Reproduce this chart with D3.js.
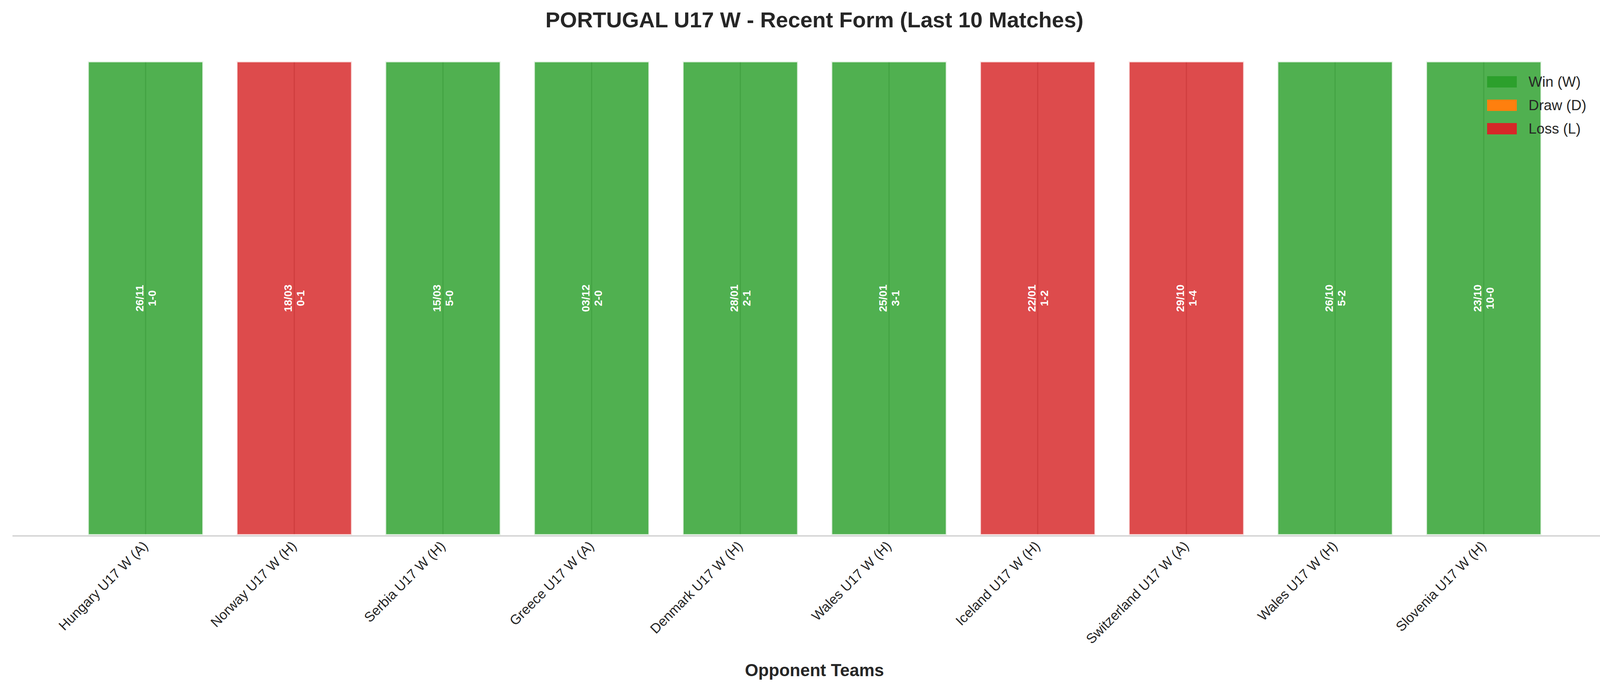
<!DOCTYPE html>
<html><head><meta charset="utf-8">
<script src="https://cdn.jsdelivr.net/npm/d3@7"></script>
<style>body{margin:0;background:#fff}svg{display:block;font-family:"Liberation Sans",Arial,sans-serif}</style>
</head><body><svg id="c" width="4170" height="1769"></svg>
<script>
const opponents = ["Hungary U17 W (A)","Norway U17 W (H)","Serbia U17 W (H)","Greece U17 W (A)","Denmark U17 W (H)","Wales U17 W (H)","Iceland U17 W (H)","Switzerland U17 W (A)","Wales U17 W (H)","Slovenia U17 W (H)"];
const results = ["W","L","W","W","W","W","L","L","W","W"];
const dates = ["26/11","18/03","15/03","03/12","28/01","25/01","22/01","29/10","26/10","23/10"];
const scores = ["1-0","0-1","5-0","2-0","2-1","3-1","1-2","1-4","5-2","10-0"];
const legendLabels = ["Win (W)","Draw (D)","Loss (L)"];
const legendKeys = ["W","D","L"];
const colors = {W:"#2ca02c", D:"#ff7f0e", L:"#d62728"};

const svg = d3.select("#c");
const x = d3.scaleLinear().domain([-0.895, 9.9]).range([32, 4141]);
const y = d3.scaleLinear().domain([0, 1]).range([1370, 157]);
const bw = 0.775 * 381.4;

// vertical grid lines
svg.append("g").selectAll("line").data(opponents).join("line")
  .attr("x1",(d,i)=>x(i)).attr("x2",(d,i)=>x(i)).attr("y1",y(0)).attr("y2",y(1))
  .attr("stroke","#b0b0b0").attr("stroke-width",3);

svg.append("g").selectAll("rect").data(results).join("rect")
  .attr("x",(d,i)=>x(i)-bw/2).attr("width",bw)
  .attr("y",y(1)).attr("height",y(0)-y(1))
  .attr("fill",d=>colors[d]).attr("fill-opacity",0.83)
  .attr("stroke","#fff").attr("stroke-opacity",0.85).attr("stroke-width",5);

// axis line
svg.append("line").attr("x1",32).attr("x2",4141).attr("y1",1372).attr("y2",1372)
  .attr("stroke","#cccccc").attr("stroke-width",3);

// bar labels
const lab = svg.append("g").selectAll("text").data(dates).join("text")
  .attr("transform",(d,i)=>`translate(${x(i)},${(y(0)+y(1))/2}) rotate(-90)`)
  .attr("text-anchor","middle").attr("fill","#fff").attr("font-weight","bold").attr("font-size",28);
lab.append("tspan").attr("x",0).attr("dy",-6).text(d=>d);
lab.append("tspan").attr("x",0).attr("dy",32).text((d,i)=>scores[i]);

// tick labels
svg.append("g").selectAll("text").data(opponents).join("text")
  .attr("transform",(d,i)=>`translate(${x(i)+8},${1400}) rotate(-45)`)
  .attr("text-anchor","end").attr("font-size",35).attr("fill","#262626").text(d=>d);

svg.append("text").attr("x",2085).attr("y",70).attr("text-anchor","middle")
  .attr("font-size",56).attr("font-weight","bold").attr("fill","#262626")
  .text("PORTUGAL U17 W - Recent Form (Last 10 Matches)");
svg.append("text").attr("x",2085).attr("y",1731).attr("text-anchor","middle")
  .attr("font-size",44).attr("font-weight","bold").attr("fill","#262626").text("Opponent Teams");

const lg = svg.append("g").selectAll("g").data(legendKeys).join("g")
  .attr("transform",(d,i)=>`translate(3807,${195+i*60})`);
lg.append("rect").attr("width",76).attr("height",29).attr("fill",d=>colors[d]);
lg.append("text").attr("x",106).attr("y",27).attr("font-size",37).attr("fill","#262626")
  .text((d,i)=>legendLabels[i]);
</script></body></html>
